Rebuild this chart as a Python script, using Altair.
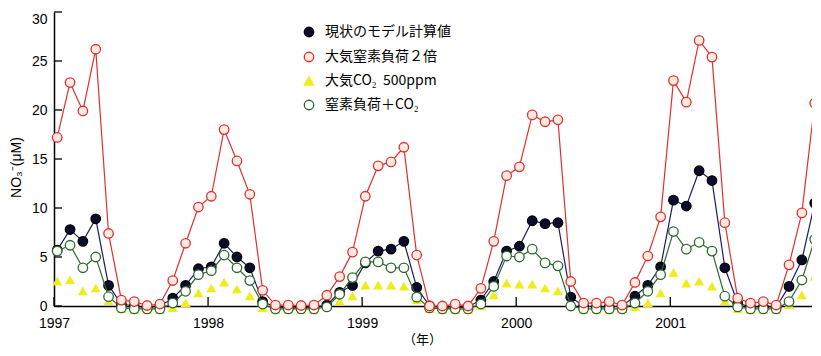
import altair as alt
import pandas as pd

# ---- data (monthly values, Jan 1997 - Dec 2001) ----
series_names = ["現状のモデル計算値", "大気窒素負荷２倍", "大気CO₂\u00a0\u00a0500ppm", "窒素負荷＋CO₂"]

current = [5.7, 7.8, 6.6, 8.9, 2.1, 0.2, 0.0, -0.2, 0.0, 0.8, 2.1, 3.8,
           4.0, 6.4, 5.0, 3.9, 0.45, -0.1, -0.2, -0.2, -0.1, 0.1, 1.4, 2.1,
           4.4, 5.6, 5.8, 6.6, 1.9, 0.0, -0.2, -0.2, -0.1, 0.6, 2.5, 5.6,
           6.1, 8.7, 8.4, 8.5, 0.9, 0.0, -0.1, -0.1, 0.0, 1.0, 2.1, 4.0,
           10.8, 10.2, 13.8, 12.8, 3.9, 0.3, -0.1, -0.1, -0.1, 2.0, 4.7, 10.5]

double_n = [17.2, 22.8, 19.9, 26.2, 7.4, 0.6, 0.45, 0.05, 0.2, 2.6, 6.4, 10.1,
            11.2, 18.0, 14.8, 11.4, 1.6, 0.1, 0.1, 0.05, 0.1, 1.1, 3.0, 5.5,
            11.2, 14.3, 14.7, 16.2, 5.2, 0.0, 0.0, 0.2, 0.0, 1.8, 6.6, 13.3,
            14.2, 19.5, 18.8, 19.0, 2.5, 0.3, 0.3, 0.45, 0.1, 2.4, 5.1, 9.1,
            23.0, 20.8, 27.1, 25.4, 8.5, 0.8, 0.3, 0.45, 0.1, 4.2, 9.5, 20.7]

co2_500 = [2.5, 2.65, 1.5, 1.8, 0.5, -0.3, -0.4, -0.4, -0.4, -0.2, 0.3, 1.3,
           1.8, 2.4, 1.7, 1.0, -0.2, -0.4, -0.4, -0.4, -0.4, 0.0, 0.45, 1.0,
           2.1, 2.1, 2.1, 2.0, 0.6, -0.3, -0.4, -0.4, -0.4, 0.0, 1.1, 2.3,
           2.2, 2.2, 1.8, 1.5, 0.1, -0.4, -0.4, -0.4, -0.3, -0.1, 0.3, 1.3,
           3.4, 2.3, 2.5, 2.0, 0.5, -0.3, -0.4, -0.4, -0.4, 0.1, 1.1, 3.0]

n_plus_co2 = [5.6, 6.2, 3.9, 5.0, 0.95, -0.2, -0.3, -0.3, -0.3, 0.3, 1.5, 3.2,
              3.6, 5.2, 3.9, 2.6, 0.2, -0.3, -0.3, -0.3, -0.3, -0.1, 1.2, 2.9,
              4.5, 4.5, 3.9, 3.9, 0.9, -0.2, -0.3, -0.3, -0.3, 0.2, 2.0, 5.1,
              5.0, 5.8, 4.4, 4.1, 0.0, -0.3, -0.3, -0.3, -0.3, 0.3, 1.5, 3.2,
              7.6, 5.8, 6.5, 5.6, 1.0, -0.1, -0.3, -0.3, -0.3, 0.45, 2.65, 6.8]

months = [1997 + (i + 0.25) / 12 for i in range(60)]
year_ticks = [1997, 1998, 1999, 2000, 2001]
y_ticks = [0, 5, 10, 15, 20, 25, 30]

# ---- table ----
rows = []
for name, vals in zip(series_names, [current, double_n, co2_500, n_plus_co2]):
    for t, v in zip(months, vals):
        rows.append({"year": t, "value": v, "series": name})
df = pd.DataFrame(rows)

shapes = ["circle", "circle", "triangle-up", "circle"]
fills = ["#0c0c2c", "#fde9e4", "#f0ec1a", "#ffffff"]
strokes = ["#000000", "#e0302a", "#f0ec1a", "#2b6a2b"]
line_colors = {series_names[0]: "#1c1c66", series_names[1]: "#e0302a", series_names[3]: "#2b6a2b"}

xs = alt.Scale(domain=[1997, 2001.92], nice=False, zero=False)
ys = alt.Scale(domain=[0, 30], nice=False, zero=False)

base = alt.Chart(df)

x_axis = alt.Axis(values=year_ticks, format="d", title="（年）", labelFontSize=14,
                  labelFont="Liberation Sans", labelColor="black", domainColor="black",
                  domainWidth=1.5, ticks=False, tickSize=0, labelPadding=10, grid=False,
                  labelFlush=False, titleFontSize=13, titleFont="Noto Sans CJK JP",
                  titleFontWeight="normal", titleColor="black", titleX=368, titleY=33,
                  titleBaseline="middle", titleAlign="center")
y_axis = alt.Axis(values=y_ticks, title="NO₃⁻(μM)", labelFontSize=14, labelFont="Liberation Sans",
                  labelColor="black", domainColor="black", domainWidth=1.5, ticks=False,
                  tickSize=0, labelPadding=7, grid=False, titleFontSize=14,
                  labelBaseline=alt.expr("datum.value == 30 ? 'top' : 'middle'"),
                  titleFont="Liberation Sans", titleFontWeight="normal", titleColor="black",
                  titleX=-38, titleY=155, titleAngle=270, titleAlign="center",
                  titleBaseline="middle")

leg = alt.Legend(title=None, orient="none", legendX=248, legendY=13)


def line_layer(name):
    return base.transform_filter(alt.FieldEqualPredicate(field="series", equal=name)).mark_line(
        color=line_colors[name], strokeWidth=1.2
    ).encode(
        x=alt.X("year:Q", scale=xs, axis=x_axis, title="（年）"),
        y=alt.Y("value:Q", scale=ys, axis=y_axis, title="NO₃⁻(μM)"),
    )


def point_layer(name, size):
    return base.transform_filter(alt.FieldEqualPredicate(field="series", equal=name)).mark_point(
        filled=True, opacity=1, size=size, strokeWidth=1.3
    ).encode(
        x=alt.X("year:Q", scale=xs, axis=x_axis, title="（年）"),
        y=alt.Y("value:Q", scale=ys, axis=y_axis, title="NO₃⁻(μM)"),
        shape=alt.Shape("series:N", scale=alt.Scale(domain=series_names, range=shapes), legend=leg),
        fill=alt.Fill("series:N", scale=alt.Scale(domain=series_names, range=fills), legend=leg),
        stroke=alt.Stroke("series:N", scale=alt.Scale(domain=series_names, range=strokes), legend=leg),
    )


ytick_df = pd.DataFrame({"v": y_ticks})
xtick_df = pd.DataFrame({"v": year_ticks})

y_tick_rules = alt.Chart(ytick_df).mark_rule(color="black", strokeWidth=1.3).encode(
    y=alt.Y("v:Q", scale=ys, axis=y_axis, title="NO₃⁻(μM)"), x=alt.value(0), x2=alt.value(8)
)
x_tick_rules = alt.Chart(xtick_df).mark_rule(color="black", strokeWidth=1.3).encode(
    x=alt.X("v:Q", scale=xs, axis=x_axis, title="（年）"), y=alt.value(294), y2=alt.value(285)
)

chart = alt.layer(
    y_tick_rules,
    x_tick_rules,
    point_layer(series_names[2], 60),
    line_layer(series_names[0]),
    point_layer(series_names[0], 90),
    line_layer(series_names[3]),
    point_layer(series_names[3], 90),
    line_layer(series_names[1]),
    point_layer(series_names[1], 90),
).properties(
    width=758,
    height=294,
    autosize=alt.AutoSizeParams(type="none"),
    padding={"left": 46, "top": 4, "right": 0, "bottom": 40},
).configure_view(stroke=None).configure_legend(
    labelFont="Noto Sans CJK JP", labelFontSize=14, labelColor="black",
    symbolSize=90, symbolStrokeWidth=1.3, rowPadding=9, labelOffset=9, padding=0,
)

chart.save("out.html", embed_options={"renderer": "svg", "actions": False})
